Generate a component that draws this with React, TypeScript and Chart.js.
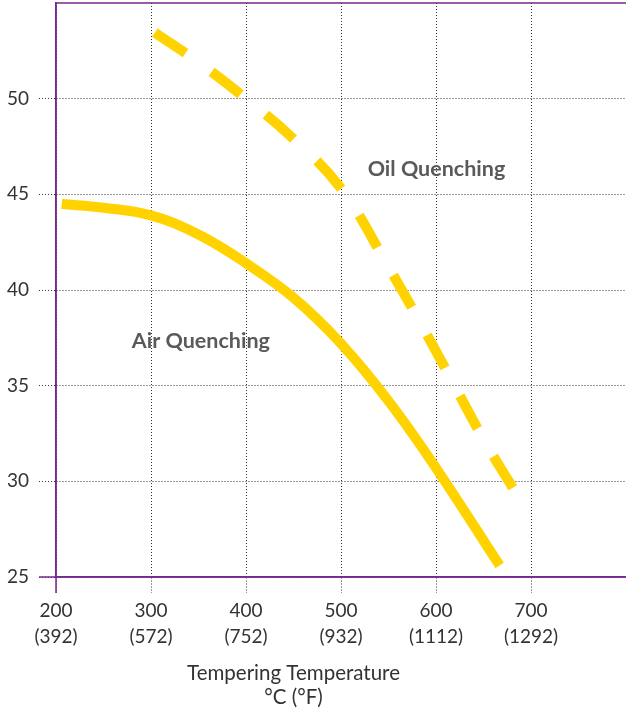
import React, { useEffect, useRef } from "react";
import { Chart, registerables } from "chart.js";

Chart.register(...registerables);

// ---- data ----
const X_TICKS_C = [200, 300, 400, 500, 600, 700];
const X_TICKS_F = ["(392)", "(572)", "(752)", "(932)", "(1112)", "(1292)"];
const Y_TICKS = [25, 30, 35, 40, 45, 50];

const AIR_X = [206, 250, 300, 350, 400, 450, 500, 550, 600, 667];
const AIR_Y = [44.5, 44.3, 43.9, 42.9, 41.4, 39.6, 37.2, 34.2, 30.7, 25.6];

const OIL_X = [304, 350, 400, 450, 500, 550, 600, 650, 684];
const OIL_Y = [53.45, 51.9, 50.0, 47.9, 45.3, 41.2, 36.8, 32.2, 29.4];

const LABEL_TEXT = ["Oil Quenching", "Air Quenching"];
const LABEL_X = [600.5, 352.5];
const LABEL_Y = [45.96, 36.97];

const AXIS_TITLE = ["Tempering Temperature", "°C (°F)"];

const X_MIN = 200;
const X_MAX = 800;
const Y_MIN = 25;
const Y_MAX = 55;

// ---- styles ----
const PURPLE = "#77298D";
const YELLOW = "#FFD200";
const GRID = "#333333";
const TEXT = "#333333";
const LABEL_GRAY = "#5a5a5a";
const FONT = "Lato, 'Open Sans', sans-serif";
const TICK_LEN_Y = 17;
const TICK_LEN_X = 16;

export default function App() {
  const ref = useRef<HTMLCanvasElement>(null);

  useEffect(() => {
    document.body.style.margin = "0";
    const canvas = ref.current!;

    const framePlugin = {
      id: "frameAndText",
      afterDraw(chart: any) {
        const { ctx, chartArea, scales } = chart;
        const xs = scales.x;
        const ys = scales.y;
        const x0 = xs.getPixelForValue(X_MIN);
        const y0 = ys.getPixelForValue(Y_MIN);
        ctx.save();
        ctx.strokeStyle = PURPLE;
        ctx.lineWidth = 1.5;
        ctx.setLineDash([]);
        ctx.beginPath();
        ctx.moveTo(chartArea.left, chartArea.top);
        ctx.lineTo(chartArea.right, chartArea.top);
        ctx.moveTo(x0, chartArea.top);
        ctx.lineTo(x0, y0 + TICK_LEN_X);
        ctx.moveTo(x0 - TICK_LEN_Y, y0);
        ctx.lineTo(chartArea.right, y0);
        ctx.stroke();

        ctx.fillStyle = LABEL_GRAY;
        ctx.font = `bold 21.5px ${FONT}`;
        ctx.textAlign = "center";
        ctx.textBaseline = "alphabetic";
        LABEL_TEXT.forEach((t, i) => {
          ctx.fillText(t, xs.getPixelForValue(LABEL_X[i]), ys.getPixelForValue(LABEL_Y[i]));
        });

        const cx = (xs.getPixelForValue(X_TICKS_C[0]) + xs.getPixelForValue(X_TICKS_C[X_TICKS_C.length - 1])) / 2;
        ctx.fillStyle = TEXT;
        ctx.font = `20.5px ${FONT}`;
        ctx.fillText(AXIS_TITLE[0], cx, chartArea.bottom + 103);
        ctx.fillText(AXIS_TITLE[1], cx, chartArea.bottom + 127);
        ctx.restore();
      },
    };

    const chart = new Chart(canvas, {
      type: "line",
      data: {
        datasets: [
          {
            label: "Air Quenching",
            data: AIR_X.map((x, i) => ({ x, y: AIR_Y[i] })),
            borderColor: YELLOW,
            borderWidth: 10,
            borderCapStyle: "butt",
            pointRadius: 0,
            tension: 0.4,
            fill: false,
          },
          {
            label: "Oil Quenching",
            data: OIL_X.map((x, i) => ({ x, y: OIL_Y[i] })),
            borderColor: YELLOW,
            borderWidth: 10,
            borderDash: [37, 32],
            borderCapStyle: "butt",
            pointRadius: 0,
            tension: 0.4,
            fill: false,
          },
        ],
      },
      options: {
        responsive: false,
        animation: false,
        devicePixelRatio: 1,
        layout: { padding: { top: 3, right: 0, left: 0, bottom: 0 } },
        plugins: {
          legend: { display: false },
          tooltip: { enabled: false },
          title: { display: false },
        },
        scales: {
          x: {
            type: "linear",
            min: X_MIN,
            max: X_MAX,
            afterBuildTicks: (scale: any) => {
              scale.ticks = X_TICKS_C.map((v) => ({ value: v }));
            },
            afterFit: (scale: any) => {
              scale.height = 131;
              scale.paddingLeft = 0;
              scale.paddingRight = 0;
            },
            grid: {
              color: GRID,
              lineWidth: 1,
              tickLength: TICK_LEN_X,
              tickBorderDash: [1, 2],
            },
            border: { display: true, color: PURPLE, width: 1.5, dash: [1, 2] },
            ticks: {
              padding: 5,
              color: TEXT,
              maxRotation: 0,
              font: { family: FONT, size: 19, lineHeight: 1.37 },
              callback: (value: any, index: number) => [String(value), X_TICKS_F[index]],
            },
          },
          y: {
            type: "linear",
            min: Y_MIN,
            max: Y_MAX,
            afterBuildTicks: (scale: any) => {
              scale.ticks = Y_TICKS.map((v) => ({ value: v }));
            },
            afterFit: (scale: any) => {
              scale.width = 56;
              scale.paddingTop = 0;
              scale.paddingBottom = 0;
            },
            grid: {
              color: GRID,
              lineWidth: 1,
              tickLength: TICK_LEN_Y,
              tickBorderDash: [1, 2],
            },
            border: { display: true, color: PURPLE, width: 1.5, dash: [1, 2] },
            ticks: {
              padding: 10,
              color: TEXT,
              font: { family: FONT, size: 19 },
            },
          },
        },
      },
      plugins: [framePlugin],
    } as any);

    return () => chart.destroy();
  }, []);

  return (
    <div style={{ width: 626, height: 708 }}>
      <canvas ref={ref} width={626} height={708} style={{ display: "block" }} />
    </div>
  );
}
